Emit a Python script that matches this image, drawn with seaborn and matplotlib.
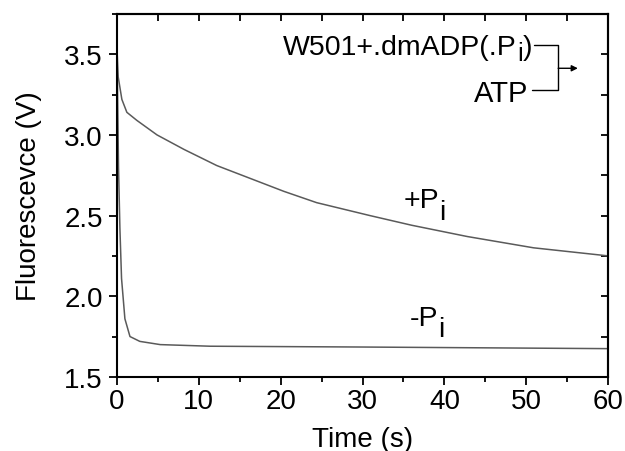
import numpy as np
import pandas as pd
import seaborn as sns
import matplotlib
matplotlib.use("Agg")
import matplotlib.pyplot as plt
from matplotlib.transforms import offset_copy

sns.set_theme(style="ticks")
plt.rcParams['font.family'] = ['Liberation Sans', 'DejaVu Sans']
plt.rcParams['text.color'] = 'black'
plt.rcParams['axes.labelcolor'] = 'black'
plt.rcParams['xtick.color'] = 'black'
plt.rcParams['ytick.color'] = 'black'

# values
t_plus = [0, 0.16, 0.61, 1.22, 2.44, 4.9, 8.2, 12.2, 16.3, 20.4, 24.4, 30.9, 36.0, 42.8, 50.9, 60]
f_plus = [3.55, 3.36, 3.22, 3.14, 3.09, 3.00, 2.91, 2.81, 2.73, 2.65, 2.58, 2.50, 2.44, 2.37, 2.30, 2.25]

t_minus = [0, 0.1, 0.2, 0.37, 0.57, 0.98, 1.6, 2.8, 5.3, 11.4, 30, 60]
f_minus = [3.55, 3.2, 2.8, 2.42, 2.11, 1.86, 1.75, 1.72, 1.70, 1.69, 1.685, 1.675]

df = pd.concat([
    pd.DataFrame({'time': t_plus, 'fluo': f_plus, 'cond': '+Pi'}),
    pd.DataFrame({'time': t_minus, 'fluo': f_minus, 'cond': '-Pi'}),
])

fig = plt.figure(figsize=(6.25, 4.52), dpi=100)
ax = fig.add_axes([0.187, 0.164, 0.786, 0.803])
sns.lineplot(data=df, x='time', y='fluo', units='cond', estimator=None,
             color='#5a5a5a', lw=1.1, legend=False, ax=ax)

ax.set_xlim(0, 60)
ax.set_ylim(1.5, 3.75)
ax.set_xticks(np.arange(0, 61, 10))
ax.set_xticks(np.arange(0, 61, 5), minor=True)
ax.set_yticks([1.5, 2.0, 2.5, 3.0, 3.5])
ax.set_yticks(np.arange(1.5, 3.76, 0.25), minor=True)
ax.tick_params(which='major', direction='out', length=6, width=1.3,
               labelsize=20, color='black', labelcolor='black', pad=2)
ax.tick_params(axis='y', which='major', pad=4)
ax.tick_params(which='minor', direction='out', length=3.5, width=1.3, color='black')
for s in ax.spines.values():
    s.set_linewidth(1.5)
    s.set_color('black')

top = ax.secondary_xaxis('top')
top.set_xticks(np.arange(0, 61, 5))
top.tick_params(direction='in', length=5, width=1.3, labeltop=False, color='black')
top.spines['top'].set_linewidth(1.5)
right = ax.secondary_yaxis('right')
right.set_yticks(np.arange(1.5, 3.76, 0.25))
right.tick_params(direction='in', length=5, width=1.3, labelright=False, color='black')
right.spines['right'].set_linewidth(1.5)

ax.set_xlabel('Time (s)', fontsize=20, labelpad=9, color='black')
ax.set_ylabel('Fluorescevce (V)', fontsize=20, labelpad=16, color='black')

renderer = fig.canvas.get_renderer()


def seq_text(x, y, pieces):
    # pieces: (text, vertical shift in points, font size)
    off = 0.0
    for s, dy, fs in pieces:
        tr = offset_copy(ax.transData, fig=fig, x=off, y=dy, units='points')
        t = ax.text(x, y, s, fontsize=fs, ha='left', va='baseline', transform=tr,
                    color='black')
        off += t.get_window_extent(renderer).width * 72 / fig.dpi


seq_text(20.3, 3.50, [('W501+.dmADP(.P', 0, 20.5), ('i', -4, 18.5), (')', 0, 20.5)])
ax.text(50.2, 3.21, 'ATP', fontsize=21, ha='right', va='baseline', color='black')
seq_text(35.0, 2.55, [('+P', 0, 20.5), ('i', -8, 20.5)])
seq_text(35.8, 1.82, [('-P', 0, 20.5), ('i', -8, 20.5)])

# bracket and arrow
bx0, bx1 = 51.0, 53.9
ax.plot([bx0, bx1, bx1, bx0 - 0.3], [3.556, 3.556, 3.277, 3.277], color='black', lw=1.0)
ax.annotate('', xy=(56.3, 3.413), xytext=(bx1, 3.413),
            arrowprops=dict(arrowstyle='-|>', color='black', lw=1.0,
                            mutation_scale=9, shrinkA=0, shrinkB=0))

fig.savefig('out.png', dpi=100, facecolor='white')
